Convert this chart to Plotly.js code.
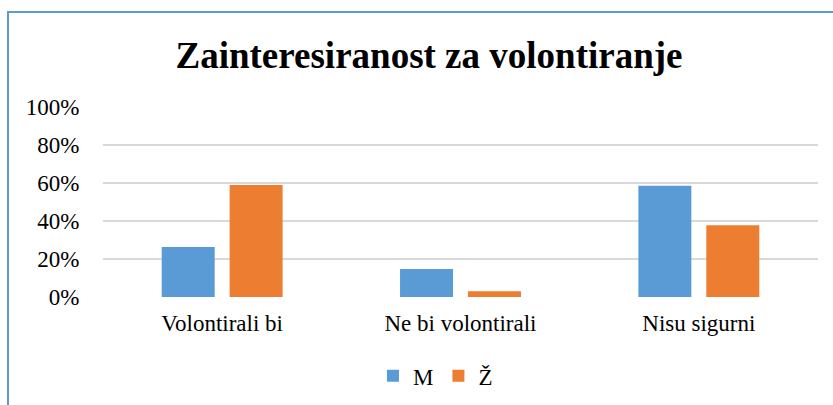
<!DOCTYPE html>
<html>
<head>
<meta charset="utf-8">
<script src="https://cdn.plot.ly/plotly-3.0.1.min.js"></script>
<style>
  html, body { margin: 0; padding: 0; background: #fff; }
  #wrap { position: relative; width: 833px; height: 405px; }
  #chart { position: absolute; left: 0; top: 0; width: 833px; height: 405px; }
  #frame { position: absolute; left: 7px; top: 11px; width: 840px; height: 400px;
           border-left: 2px solid #5B9BD5; border-top: 2px solid #5B9BD5; pointer-events: none; }
</style>
</head>
<body>
<div id="wrap">
  <div id="chart"></div>
  <div id="frame"></div>
</div>
<script>
const categories = ["Volontirali bi", "Ne bi volontirali", "Nisu sigurni"];
const seriesNames = ["M", "Ž"];
const valuesM = [26.3, 14.7, 58.6];
const valuesZ = [58.9, 3.0, 37.7];
const yTickValues = [0, 20, 40, 60, 80, 100];
const yTickLabels = ["0%", "20%", "40%", "60%", "80%", "100%"];

const font = "Liberation Serif";

const traces = [
  { type: "bar", name: seriesNames[0], x: categories, y: valuesM,
    marker: { color: "#5B9BD5" }, hoverinfo: "none" },
  { type: "bar", name: seriesNames[1], x: categories, y: valuesZ,
    marker: { color: "#ED7D31" }, hoverinfo: "none" }
];

const layout = {
  width: 833, height: 405,
  margin: { l: 103, r: 15, t: 107, b: 108 },
  paper_bgcolor: "rgba(0,0,0,0)",
  plot_bgcolor: "rgba(0,0,0,0)",
  barmode: "group",
  bargap: 0.43,
  bargroupgap: 0.22,
  title: { text: "<b>Zainteresiranost za volontiranje</b>",
           font: { family: font, size: 37, color: "#000" },
           x: 0.515, xanchor: "center", y: 0.865, yanchor: "middle" },
  font: { family: font, size: 23, color: "#000" },
  xaxis: { type: "category", showgrid: false, showline: false, zeroline: false,
           ticks: "outside", ticklen: 5, tickcolor: "rgba(0,0,0,0)",
           tickfont: { family: font, size: 23, color: "#000" } },
  yaxis: { range: [0, 100], tickvals: yTickValues, ticktext: yTickLabels,
           showgrid: true, gridcolor: "#D9D9D9", gridwidth: 1.3,
           zeroline: false, showline: false,
           ticks: "outside", ticklen: 18, tickcolor: "rgba(0,0,0,0)",
           tickfont: { family: font, size: 23, color: "#000" } },
  legend: { orientation: "h", x: 0.465, xanchor: "center",
            yref: "container", y: 0.072, yanchor: "middle",
            font: { family: font, size: 23, color: "#000" },
            itemwidth: 30, traceorder: "normal" },
  showlegend: true
};

Plotly.newPlot("chart", traces, layout, { displayModeBar: false, staticPlot: true });
</script>
</body>
</html>
